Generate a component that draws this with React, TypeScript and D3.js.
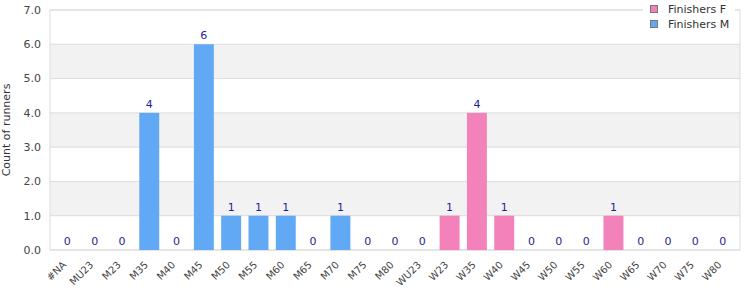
import React from 'react';
import * as d3 from 'd3';

const categories = ['#NA', 'MU23', 'M23', 'M35', 'M40', 'M45', 'M50', 'M55', 'M60', 'M65', 'M70', 'M75', 'M80',
    'WU23', 'W23', 'W35', 'W40', 'W45', 'W50', 'W55', 'W60', 'W65', 'W70', 'W75', 'W80'];
const finishersM = [0, 0, 0, 4, 0, 6, 1, 1, 1, 0, 1, 0, 0, 0, 0, 0, 0, 0, 0, 0, 0, 0, 0, 0, 0];
const finishersF = [0, 0, 0, 0, 0, 0, 0, 0, 0, 0, 0, 0, 0, 0, 1, 4, 1, 0, 0, 0, 1, 0, 0, 0, 0];
const yTicks = [0, 1, 2, 3, 4, 5, 6, 7];
const seriesNames = ['Finishers F', 'Finishers M'];

const colorM = '#61a8f5';
const colorF = '#f282b9';
const font = '"DejaVu Sans", Verdana, sans-serif';

export default function App() {
    const width = 750, height = 300;
    const margin = { top: 10, right: 10, bottom: 50, left: 50 };
    const innerW = width - margin.left - margin.right;
    const innerH = height - margin.top - margin.bottom;

    const x = d3.scaleBand().domain(categories).range([margin.left, margin.left + innerW]).padding(0.27);
    const y = d3.scaleLinear().domain([0, 7]).range([margin.top + innerH, margin.top]);

    const rows = categories.map((c, i) => ({ cat: c, m: finishersM[i], f: finishersF[i] }));

    return (
        <svg width={width} height={height} style={{ position: 'absolute', left: 0, top: 0, fontFamily: font }}>
            {/* alternating bands */}
            {yTicks.slice(0, -1).map((t, i) => (
                <rect key={'b' + i} x={margin.left} y={y(t + 1)} width={innerW} height={y(t) - y(t + 1)}
                    fill={i % 2 === 1 ? '#f2f2f2' : '#fff'} />
            ))}
            {yTicks.map((t) => (
                <g key={'t' + t}>
                    <line x1={margin.left} x2={margin.left + innerW} y1={y(t)} y2={y(t)} stroke="#dcdcdc" />
                    <text x={41} y={y(t)} dy="0.35em" textAnchor="end" fontSize={11} fill="#444">{t.toFixed(1)}</text>
                </g>
            ))}
            <rect x={margin.left} y={margin.top} width={innerW} height={innerH} fill="none" stroke="#dcdcdc" />

            {rows.map((d) => (
                <g key={d.cat}>
                    {d.m > 0 && (
                        <rect x={x(d.cat)} y={y(d.m)} width={x.bandwidth()} height={y(0) - y(d.m)} fill={colorM} />
                    )}
                    {d.f > 0 && (
                        <rect x={x(d.cat)} y={y(d.f)} width={x.bandwidth()} height={y(0) - y(d.f)} fill={colorF} />
                    )}
                    <text x={x(d.cat)! + x.bandwidth() / 2} y={y(d.m + d.f) - 5} textAnchor="middle"
                        fontSize={11} fill="#1f1f8f">{d.m + d.f}</text>
                    <text transform={`translate(${x(d.cat)! + x.bandwidth() / 2 - 3}, 263) rotate(-45)`}
                        dy="0.35em" textAnchor="end" fontSize={10} fill="#444">{d.cat}</text>
                </g>
            ))}

            <text transform={`translate(10, 130) rotate(-90)`} textAnchor="middle" fontSize={11} fill="#333">Count of runners</text>

            {/* legend */}
            <rect x={643} y={0} width={92} height={31} fill="#fff" />
            {seriesNames.map((s, i) => (
                <g key={s} transform={`translate(650, ${5 + i * 15})`}>
                    <rect x={0.5} y={0.5} width={7} height={7} fill={i === 0 ? colorF : colorM} stroke="#777" />
                    <text x={18} y={4} dy="0.35em" fontSize={11} fill="#333">{s}</text>
                </g>
            ))}
        </svg>
    );
}
